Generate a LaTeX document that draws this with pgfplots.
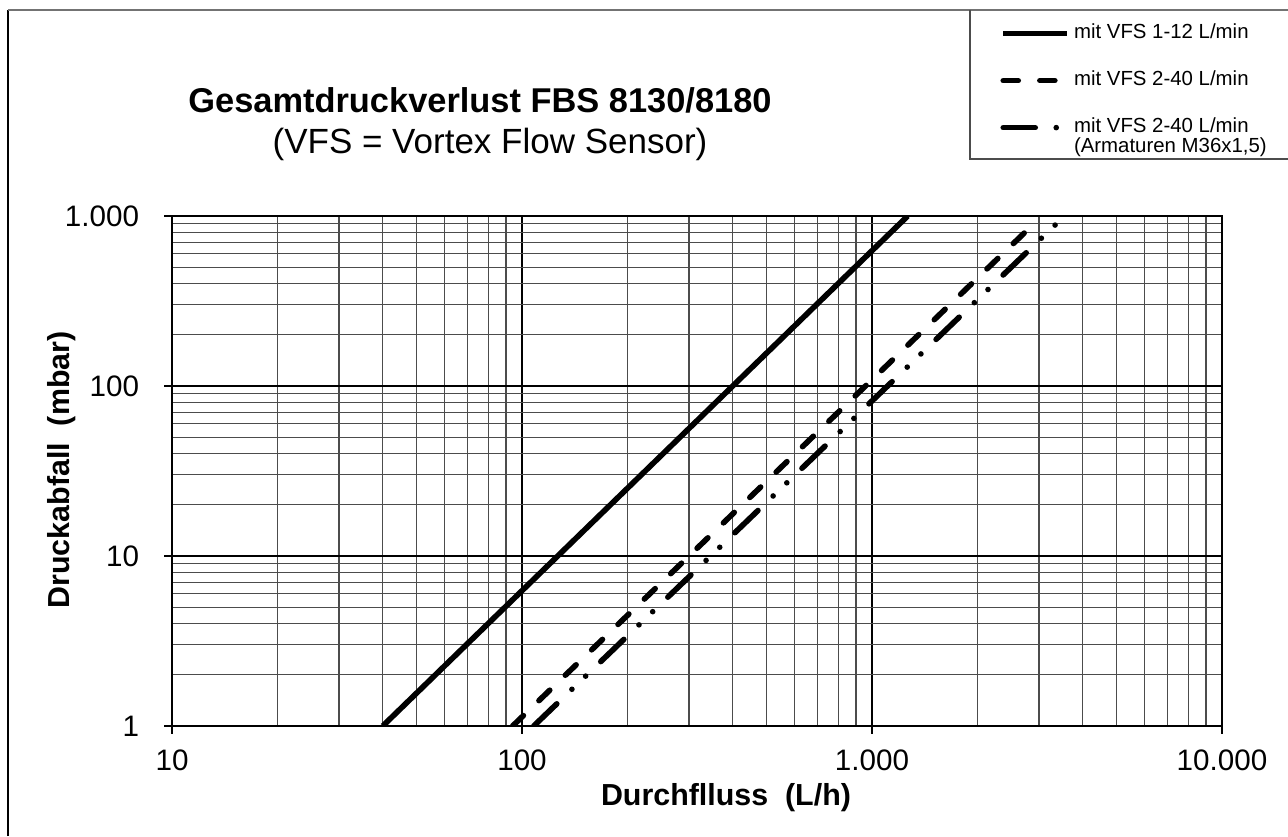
\documentclass[border=0pt]{standalone}
\usepackage{fontspec}
\setmainfont{Liberation Sans}
\usepackage{pgfplots}
\pgfplotsset{compat=1.18}
\begin{document}
\begin{tikzpicture}[x=1pt,y=1pt]
\useasboundingbox (0,0) rectangle (644,418);
\draw[black, line width=0.6pt] (4,0) -- (4,413);
\draw[black!55, line width=0.8pt] (4,413) -- (650,413);
\draw[black!70, line width=0.6pt] (485,413) -- (485,338.5) -- (650,338.5);
\node[anchor=base, font=\bfseries\fontsize{17.2}{20}\selectfont] at (240,361.5) {Gesamtdruckverlust FBS 8130/8180};
\node[anchor=base, font=\fontsize{17.5}{20}\selectfont] at (245,341.2) {(VFS = Vortex Flow Sensor)};
\begin{axis}[
  at={(86pt,55pt)}, anchor=south west,
  scale only axis, width=525pt, height=255pt,
  xmode=log, ymode=log,
  xmin=10, xmax=10000, ymin=1, ymax=1000,
  xtick={10,100,1000,10000}, xticklabels={10,100,1.000,10.000},
  ytick={1,10,100,1000}, yticklabels={1,10,100,1.000},
  tick pos=left, tick align=outside,
  major tick length=4pt, minor tick length=0pt,
  tick style={black, line width=0.6pt},
  grid=both,
  major grid style={black, line width=0.6pt},
  minor grid style={black!70, line width=0.55pt},
  axis line style={black, line width=1.4pt},
  ticklabel style={font=\fontsize{14.8}{17}\selectfont},
  xticklabel style={yshift=-4.5pt},
  yticklabel style={xshift=-9pt},
  label style={font=\bfseries\fontsize{15.2}{18}\selectfont},
  xlabel={Durchflluss\ \ (L/h)},
  ylabel={Druckabfall\ \ (mbar)},
  xlabel style={at={(axis description cs:0.5276,-0.141)}, anchor=center},
  ylabel style={at={(axis description cs:-0.1048,0.502)}, anchor=center},
  legend image code/.code={\draw[#1] (0pt,0pt) -- (32pt,0pt);},
  legend cell align=left,
  legend style={at={(axis description cs:0.7886,1.376)}, anchor=north west,
    draw=none, fill=none, inner sep=0pt, column sep=2pt, row sep=14.5pt,
    font=\fontsize{10.2}{12}\selectfont,
    nodes={inner sep=0pt, text height=7pt, text depth=2pt}},
]
\addplot[black, line width=2.8pt] coordinates {(40,1) (1265,1000)};
\addlegendentry{mit VFS 1-12 L/min}
\addplot[black, line width=2.8pt, line cap=round, dash pattern=on 7.5pt off 10.8pt] coordinates {(94,1) (2900,900)};
\addlegendentry{mit VFS 2-40 L/min}
\addplot[black, line width=2.8pt, line cap=round, dash pattern=on 16pt off 10.5pt on 0pt off 9.5pt on 0pt off 10.5pt] coordinates {(108,1) (3336,885)};
\addlegendentry{\rlap{\smash{\raisebox{-10pt}{(Armaturen M36x1,5)}}}mit VFS 2-40 L/min}
\end{axis}
\end{tikzpicture}
\end{document}
